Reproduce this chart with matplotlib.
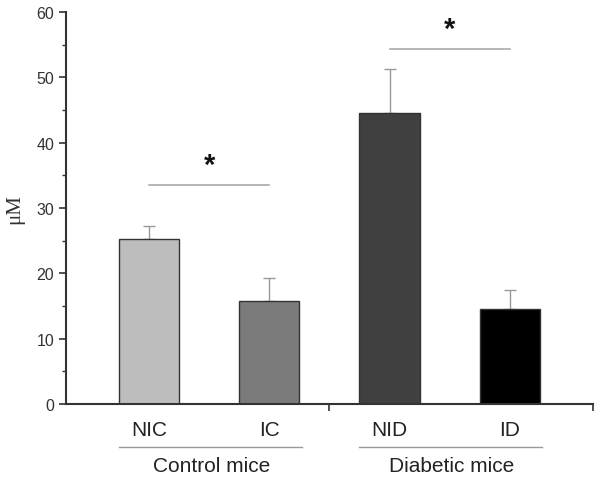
import numpy as np
import matplotlib.pyplot as plt
import matplotlib.transforms as mtransforms

plt.rcParams['font.family'] = ['Liberation Sans', 'DejaVu Sans']

groups = ['NIC', 'IC', 'NID', 'ID']
means = [25.2, 15.8, 44.5, 14.5]
errs = [2.1, 3.5, 6.8, 2.9]
colors = ['#bdbdbd', '#7b7b7b', '#404040', '#000000']
group_names = ['Control mice', 'Diabetic mice']
sig_pairs = [(0, 1, 33.5), (2, 3, 54.3)]

x = np.arange(1, len(groups) + 1)

fig = plt.figure(figsize=(6, 4.81), dpi=100)
ax = fig.add_axes([0.11, 0.158, 0.878, 0.815])

ax.bar(x, means, width=0.5, color=colors, edgecolor='#333333', linewidth=1.0, zorder=2)
ax.errorbar(x, means, yerr=[np.zeros(len(errs)), errs], fmt='none',
            ecolor='#999999', elinewidth=1.0, capsize=4, capthick=1.0, zorder=1)

ax.set_xlim(0.31, 4.69)
ax.set_ylim(0, 60)
ax.set_yticks(np.arange(0, 61, 10))
ax.set_yticks(np.arange(5, 60, 10), minor=True)
ax.set_xticks([2.5, 4.69])
ax.set_xticklabels([])
for s in ['top', 'right']:
    ax.spines[s].set_visible(False)
for s in ['left', 'bottom']:
    ax.spines[s].set_linewidth(1.5)
    ax.spines[s].set_color('#333333')
ax.tick_params(axis='both', which='major', length=5, width=1.2, color='#333333',
               labelsize=11.5, labelcolor='#333333')
ax.tick_params(axis='y', which='minor', length=3, width=1.0, color='#333333')
ax.set_ylabel('μM', fontsize=15, family='Liberation Serif', color='#333333', labelpad=9)

# significance bars
for i, j, h in sig_pairs:
    ax.plot([x[i], x[j]], [h, h], color='#aaaaaa', linewidth=1.2)
    ax.text((x[i] + x[j]) / 2, h + 1.0, '*', ha='center', va='bottom',
            fontsize=21, fontweight='bold', color='#111111')

# category and group labels below the axis
trans = mtransforms.blended_transform_factory(ax.transData, ax.transAxes)
for xi, g in zip(x, groups):
    ax.text(xi, -0.065, g, transform=trans, ha='center', va='center', fontsize=15, color='#222222')
for k, name in enumerate(group_names):
    left = x[2 * k] - 0.25
    right = x[2 * k + 1] + 0.27
    ax.plot([left, right], [-0.11, -0.11], transform=trans, color='#999999',
            linewidth=1.0, clip_on=False)
    ax.text((x[2 * k] + x[2 * k + 1]) / 2 + 0.02, -0.157, name, transform=trans,
            ha='center', va='center', fontsize=15, color='#222222')

fig.savefig('out.png', dpi=100)
